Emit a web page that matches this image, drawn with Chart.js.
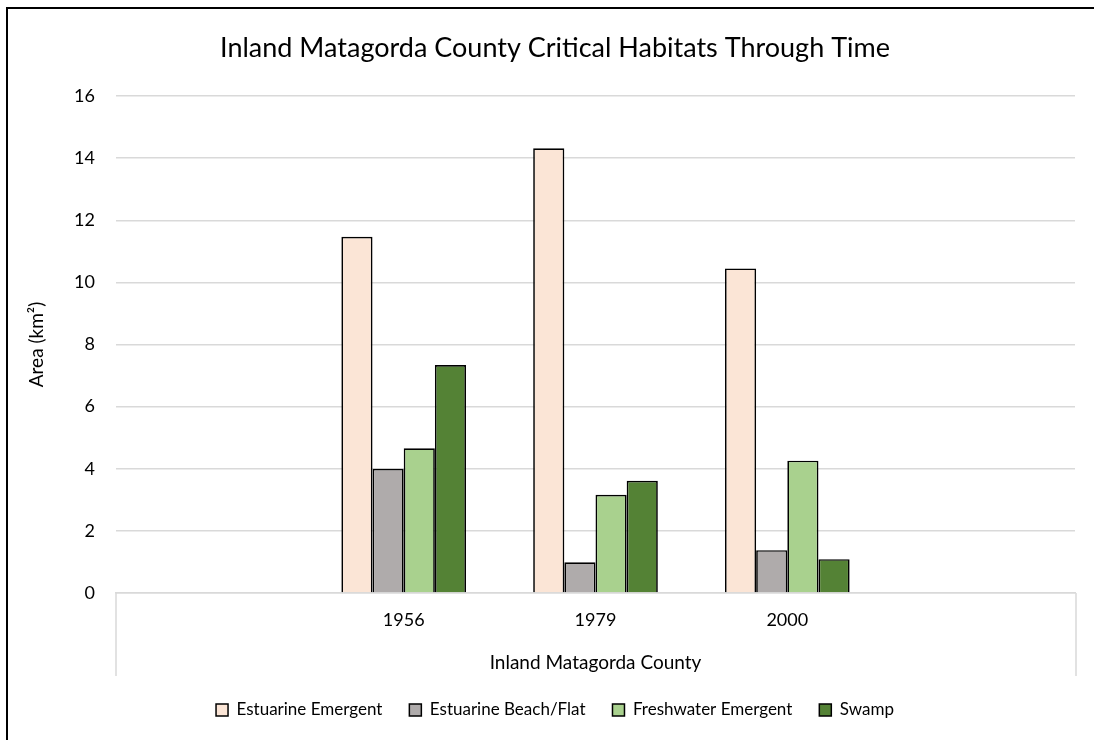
<!DOCTYPE html>
<html>
<head>
<meta charset="utf-8">
<script src="https://cdn.jsdelivr.net/npm/chart.js@4.4.0/dist/chart.umd.min.js"></script>
<style>
  html, body { margin: 0; padding: 0; overflow: hidden; background: #fff; width: 1094px; height: 740px; }
  #wrap { position: absolute; left: 0; top: 0; width: 1110px; height: 740px; }
  #frame { position: absolute; left: 6px; top: 7px; width: 1200px; height: 800px; border-left: 2px solid #000; border-top: 2px solid #000; pointer-events: none; }
</style>
</head>
<body>
<div id="wrap"><canvas id="c" width="1110" height="740"></canvas></div>
<div id="frame"></div>
<script>
const categories = ['', '1956', '1979', '2000', ''];
const seriesNames = ['Estuarine Emergent', 'Estuarine Beach/Flat', 'Freshwater Emergent', 'Swamp'];
const estuarineEmergent = [null, 11.47, 14.32, 10.45, null];
const estuarineBeachFlat = [null, 4.00, 0.99, 1.38, null];
const freshwaterEmergent = [null, 4.66, 3.16, 4.26, null];
const swamp = [null, 7.34, 3.61, 1.09, null];
const yTicks = [0, 2, 4, 6, 8, 10, 12, 14, 16];
const colors = ['#FBE5D6', '#AFABAB', '#A9D18E', '#548235'];

const FONT = 'Lato';

const boxPlugin = {
  id: 'axisBox',
  afterDraw(chart) {
    const ctx = chart.ctx;
    const a = chart.chartArea;
    ctx.save();
    ctx.strokeStyle = '#d9d9d9';
    ctx.lineWidth = 1.5;
    ctx.beginPath();
    ctx.moveTo(a.left, a.bottom);
    ctx.lineTo(a.left, a.bottom + 83);
    ctx.moveTo(a.right + 1, a.bottom);
    ctx.lineTo(a.right + 1, a.bottom + 83);
    ctx.stroke();
    ctx.restore();
  }
};

const seriesData = [estuarineEmergent, estuarineBeachFlat, freshwaterEmergent, swamp];

new Chart(document.getElementById('c'), {
  type: 'bar',
  data: {
    labels: categories,
    datasets: seriesNames.map((n, i) => ({
      label: n,
      data: seriesData[i],
      backgroundColor: colors[i],
      borderColor: '#000',
      borderWidth: 1.7,
      categoryPercentage: 0.65,
      barPercentage: 1.0
    }))
  },
  options: {
    responsive: false,
    animation: false,
    layout: { padding: { left: 0, right: 0, top: 0, bottom: 11.5 } },
    plugins: {
      title: {
        display: true,
        text: 'Inland Matagorda County Critical Habitats Through Time',
        color: '#000',
        font: { family: FONT, size: 27, weight: 'normal', lineHeight: 1.2 },
        padding: { top: 32, bottom: 31.6 }
      },
      legend: {
        position: 'bottom',
        labels: {
          color: '#000',
          font: { family: FONT, size: 17 },
          boxWidth: 12,
          boxHeight: 12,
          padding: 27,
          generateLabels(chart) {
            return chart.data.datasets.map((d, i) => ({
              text: d.label,
              fillStyle: d.backgroundColor,
              strokeStyle: '#000',
              lineWidth: 1.5,
              datasetIndex: i,
              hidden: false
            }));
          }
        }
      },
      tooltip: { enabled: false }
    },
    scales: {
      x: {
        offset: true,
        grid: { display: false, drawTicks: false },
        border: { display: true, color: '#d9d9d9', width: 1.5 },
        ticks: { color: '#000', font: { family: FONT, size: 18 }, padding: 16, maxRotation: 0, autoSkip: false },
        title: {
          display: true,
          text: 'Inland Matagorda County',
          color: '#000',
          font: { family: FONT, size: 19, lineHeight: 1.0 },
          padding: { top: 0, bottom: 2 }
        },
        afterFit(s) { s.height = 81.5; }
      },
      y: {
        min: 0,
        max: 16,
        afterBuildTicks(s) { s.ticks = yTicks.map(v => ({ value: v })); },
        grid: { color: '#d9d9d9', lineWidth: 1.5, drawTicks: false },
        border: { display: false },
        ticks: { color: '#000', font: { family: FONT, size: 18 }, padding: 21 },
        title: {
          display: true,
          text: 'Area (km²)',
          color: '#000',
          font: { family: FONT, size: 19 },
          padding: { top: 25, bottom: 0 }
        },
        afterFit(s) { s.width = 116; }
      },
      yRight: {
        type: 'linear',
        position: 'right',
        display: true,
        grid: { display: false, drawTicks: false },
        border: { display: false },
        ticks: { display: false },
        afterFit(s) { s.width = 35; }
      }
    }
  },
  plugins: [boxPlugin]
});
</script>
</body>
</html>
